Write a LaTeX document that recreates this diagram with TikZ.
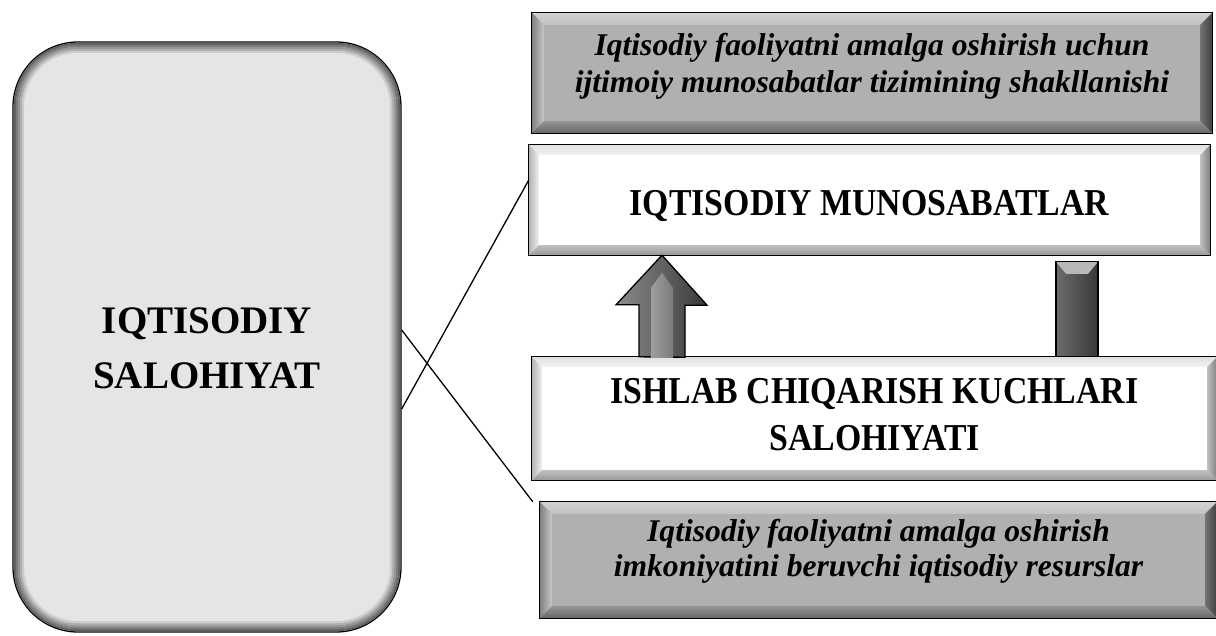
\documentclass[tikz,border=0pt]{standalone}
\usepackage{fontspec}
\setmainfont{Liberation Serif}
\newfontfamily\narrowserif[FakeStretch=0.89]{Liberation Serif}
\usetikzlibrary{positioning}

\definecolor{boxgray}{RGB}{176,176,176}

% bevelled frame round a rectangular node
\newcommand{\bevel}[6]{%
  \path[#3] (#1.north west) -- (#1.north east) -- ([shift={(-#2,#2)}]#1.north east) -- ([shift={(#2,#2)}]#1.north west) -- cycle;
  \path[#4] (#1.north west) -- ([shift={(#2,#2)}]#1.north west) -- ([shift={(#2,-#2)}]#1.south west) -- (#1.south west) -- cycle;
  \path[#5] (#1.north east) -- ([shift={(-#2,#2)}]#1.north east) -- ([shift={(-#2,-#2)}]#1.south east) -- (#1.south east) -- cycle;
  \path[#6] (#1.south west) -- ([shift={(#2,-#2)}]#1.south west) -- ([shift={(-#2,-#2)}]#1.south east) -- (#1.south east) -- cycle;
  \draw[line width=1.3pt] (#1.north west) rectangle (#1.south east);
}

\begin{document}
\begin{tikzpicture}[x=1pt, y=-1pt,
  every node/.style={inner sep=0pt, align=center},
  sidebox/.style={draw, line width=1.3pt, fill=black!10, rounded corners=65pt,
    minimum width=388pt, minimum height=590pt},
  sidetext/.style={font=\bfseries\fontsize{39}{55}\selectfont},
  greybox/.style={fill=boxgray},
  whitebox/.style={fill=white},
  ittext/.style={font=\bfseries\itshape\fontsize{31.6}{37}\selectfont},
  captext/.style={font=\narrowserif\bfseries\fontsize{38}{47}\selectfont},
  link/.style={line width=1.3pt}]
  \useasboundingbox (0,0) rectangle (1216,635);

  \node[sidebox] (sal) at (207,337) {};
  \foreach \d/\c in {2.5/black!62, 4.5/black!52, 6.5/black!42, 8.5/black!32, 10.5/black!20}
    \draw[line width=2.2pt, \c, rounded corners=65pt-\d pt]
      ([shift={(\d,\d)}]sal.north west) rectangle ([shift={(-\d,-\d)}]sal.south east);
  \node[sidetext] (saltext) at ([yshift=-11pt]sal.center) {IQTISODIY\\SALOHIYAT};

  \node[greybox, minimum width=680pt, minimum height=120pt] (faol) at (872,73) {};
  \node[whitebox, minimum width=681pt, minimum height=110pt] (munos) at (869.5,200) {};
  \node[whitebox, minimum width=685pt, minimum height=123pt] (kuch) at (874.5,418.5) {};
  \node[greybox, minimum width=677pt, minimum height=116pt] (res) at (878.5,560) {};

  \bevel{faol}{12}{top color=black!18, bottom color=black!24}{left color=black!50, right color=black!22}
    {left color=black!55, right color=black!75}{top color=black!42, bottom color=black!60}
  \bevel{res}{12}{top color=black!18, bottom color=black!24}{left color=black!50, right color=black!22}
    {left color=black!55, right color=black!75}{top color=black!42, bottom color=black!60}
  \bevel{munos}{10}{top color=black!12, bottom color=black!5}{left color=black!30, right color=black!6}
    {left color=black!25, right color=black!50}{top color=black!25, bottom color=black!40}
  \bevel{kuch}{10}{top color=black!12, bottom color=black!5}{left color=black!30, right color=black!6}
    {left color=black!25, right color=black!50}{top color=black!25, bottom color=black!40}

  \node[ittext] (faoltext) at ([yshift=7pt]faol.center)
    {Iqtisodiy faoliyatni amalga oshirish uchun\\ijtimoiy munosabatlar tizimining shakllanishi};
  \node[captext] (munostext) at ([yshift=-6pt]munos.center) {IQTISODIY MUNOSABATLAR};
  \node[captext] (kuchtext) at ([yshift=4pt]kuch.center) {ISHLAB CHIQARISH KUCHLARI\\SALOHIYATI};
  \node[ittext, font=\bfseries\itshape\fontsize{31.6}{35}\selectfont] (restext) at ([yshift=9pt]res.center)
    {Iqtisodiy faoliyatni amalga oshirish\\imkoniyatini beruvchi iqtisodiy resurslar};

  % connectors
  \draw[link] ([yshift=7pt]sal.east) -- ([xshift=-7pt]res.north west);
  \draw[link] ([yshift=-72pt]sal.east) -- ([yshift=20pt]munos.west);

  % up arrow
  \coordinate (ax) at (662,0);
  \path[left color=black!45, right color=black!78, draw=black, line width=1.3pt]
    (kuch.north -| ax) ++(-23,0) -- ++(0,-52) -- ++(-23,0) -- (munos.south -| ax)
    -- ++(45,50) -- ++(-22,0) -- ++(0,52) -- cycle;
  \path[left color=black!38, right color=black!52]
    (kuch.north -| ax) ++(-11,1) -- ++(0,-70) -- ++(11,-15) -- ++(11,15) -- ++(0,70) -- cycle;

  % bar
  \coordinate (bx) at (1077,0);
  \path[left color=black!58, middle color=black!38, right color=black!78]
    (kuch.north -| bx) ++(-21,0) rectangle ++(42,-95);
  \fill[black!28] (kuch.north -| bx) ++(-21,-95) -- ++(42,0) -- ++(-10,12) -- ++(-22,0) -- cycle;
  \draw[line width=1.3pt] (kuch.north -| bx) ++(-21,0) rectangle ++(42,-95);
\end{tikzpicture}
\end{document}
